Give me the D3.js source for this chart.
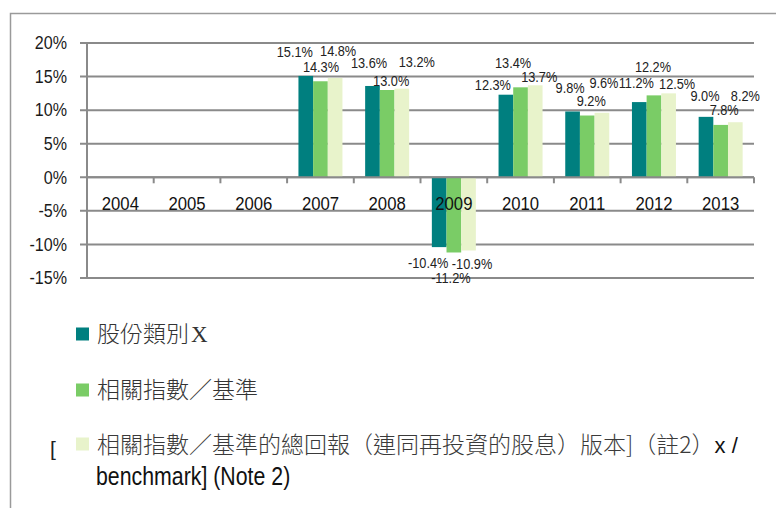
<!DOCTYPE html>
<html>
<head>
<meta charset="utf-8">
<script src="https://cdn.jsdelivr.net/npm/d3@7"></script>
<style>
  html, body { margin: 0; padding: 0; background: #fff; }
  svg { display: block; }
</style>
</head>
<body>
<div id="chart"></div>
<script>
// ---------- data ----------
const years = ["2004", "2005", "2006", "2007", "2008", "2009", "2010", "2011", "2012", "2013"];
const shareClassX = [null, null, null, 15.1, 13.6, -10.4, 12.3, 9.8, 11.2, 9.0];
const indexBenchmark = [null, null, null, 14.3, 13.0, -11.2, 13.4, 9.2, 12.2, 7.8];
const totalReturnVersion = [null, null, null, 14.8, 13.2, -10.9, 13.7, 9.6, 12.5, 8.2];
const yTicks = [-15, -10, -5, 0, 5, 10, 15, 20];
const legendRow1 = "股份類別";
const legendRow1Tail = "X";
const legendRow2 = "相關指數／基準";
const legendRow3a = "相關指數／基準的總回報（連同再投資的股息）版本]（註2）";
const legendRow3aTail = "x /";
const legendRow3b = "benchmark] (Note 2)";
const legendBracket = "[";

// ---------- layout / style ----------
const W = 776, H = 508;
const colors = ["#007f7f", "#7acc66", "#e8f3cb"];
const gridColor = "#8a8a8a";
const sans = "'Liberation Sans', Arial, sans-serif";
const cjk = "'Noto Sans CJK TC', 'Noto Sans CJK SC', sans-serif";
// label nudges (px) relative to bar end, per series, for years 2007..2013
const labelDx = [
  [-11, -3.5, -11, -13, -2.5, -3, -1],
  [0.5, 4, -3, -7.5, 4, -1, 3.5],
  [3, 15, 3.5, 4, 2, 8.5, 10]
];
const labelDy = [
  [-24.6, -22.7, 16, -10.4, -24, -19, -20.6],
  [-14, -9.7, 25, -25, -15, -29, -15.6],
  [-27.6, -26.4, 13, -9, -30.5, -10, -26]
];
const firstLabelledYear = 3;

const svg = d3.select("#chart").append("svg")
  .attr("width", W).attr("height", H);

// outer frame (left + top)
svg.append("path")
  .attr("d", `M10.5,${H} L10.5,13.5 L${W},13.5`)
  .attr("fill", "none").attr("stroke", "#9a9a9a").attr("stroke-width", 1.5);

const x = d3.scaleBand().domain(years).range([87, 754]).padding(0);
const y = d3.scaleLinear().domain([-15, 20]).range([278, 43]);
const groupW = 44;
const xs = d3.scaleBand().domain([0, 1, 2]).range([0, groupW]).padding(0);

// gridlines
svg.append("g").selectAll("line").data(yTicks).join("line")
  .attr("x1", 80).attr("x2", 754)
  .attr("y1", d => y(d)).attr("y2", d => y(d))
  .attr("stroke", gridColor).attr("stroke-width", 2);

// y tick labels
svg.append("g").selectAll("text").data(yTicks).join("text")
  .attr("transform", d => `translate(67,${y(d)}) scale(0.92,1)`)
  .attr("dy", "0.36em")
  .attr("text-anchor", "end")
  .attr("font-family", sans)
  .attr("font-size", 17.5).attr("fill", "#1a1a1a")
  .text(d => d + "%");

// bars
const series = [shareClassX, indexBenchmark, totalReturnVersion];
const barData = [];
series.forEach((arr, si) => {
  arr.forEach((v, yi) => {
    if (v !== null) barData.push({ si, yi, v });
  });
});
const bandCenter = yr => x(yr) + x.bandwidth() / 2;
svg.append("g").selectAll("rect").data(barData).join("rect")
  .attr("x", d => bandCenter(years[d.yi]) - groupW / 2 + xs(d.si))
  .attr("width", xs.bandwidth())
  .attr("y", d => Math.min(y(d.v), y(0)))
  .attr("height", d => Math.abs(y(d.v) - y(0)))
  .attr("fill", d => colors[d.si]);

// y axis line
svg.append("line")
  .attr("x1", 87).attr("x2", 87).attr("y1", y(20)).attr("y2", y(-15))
  .attr("stroke", gridColor).attr("stroke-width", 2);

// x axis line + ticks
svg.append("line")
  .attr("x1", 87).attr("x2", 754).attr("y1", y(0)).attr("y2", y(0))
  .attr("stroke", gridColor).attr("stroke-width", 2);
const tickXs = years.map(yr => x(yr)).concat([x(years[years.length - 1]) + x.bandwidth()]);
svg.append("g").selectAll("line").data(tickXs).join("line")
  .attr("x1", d => d).attr("x2", d => d)
  .attr("y1", y(0)).attr("y2", y(0) + 6)
  .attr("stroke", gridColor).attr("stroke-width", 2);

// year labels
svg.append("g").selectAll("text").data(years).join("text")
  .attr("transform", d => `translate(${bandCenter(d)},210) scale(0.88,1)`)
  .attr("text-anchor", "middle")
  .attr("font-family", sans)
  .attr("font-size", 19).attr("fill", "#111")
  .text(d => d);

// data labels
svg.append("g").selectAll("text").data(barData).join("text")
  .attr("transform", d => {
    const cx = bandCenter(years[d.yi]) - groupW / 2 + xs(d.si) + xs.bandwidth() / 2 + labelDx[d.si][d.yi - firstLabelledYear];
    const cy = y(d.v) + labelDy[d.si][d.yi - firstLabelledYear];
    return `translate(${cx},${cy}) scale(0.88,1)`;
  })
  .attr("dy", "0.36em")
  .attr("text-anchor", "middle")
  .attr("font-family", sans)
  .attr("font-size", 14.5).attr("fill", "#222")
  .text(d => d.v.toFixed(1) + "%");

// legend
const lg = svg.append("g");
const rows = [
  { cy: 334, color: colors[0] },
  { cy: 390, color: colors[1] },
  { cy: 444, color: colors[2] }
];
lg.selectAll("rect").data(rows).join("rect")
  .attr("x", 76).attr("y", d => d.cy - 6.5).attr("width", 13).attr("height", 13)
  .attr("fill", d => d.color);

const t1 = lg.append("text").attr("x", 97).attr("y", 334).attr("dy", "0.36em")
  .attr("font-family", cjk).attr("font-weight", 300).attr("font-size", 23).attr("fill", "#333");
t1.append("tspan").text(legendRow1);
t1.append("tspan").attr("font-family", "'Liberation Serif', serif").attr("dx", 2).text(legendRow1Tail);

lg.append("text").attr("x", 97).attr("y", 390).attr("dy", "0.36em")
  .attr("font-family", cjk).attr("font-weight", 300).attr("font-size", 23).attr("fill", "#333")
  .text(legendRow2);

const t3 = lg.append("text").attr("x", 97).attr("y", 445).attr("dy", "0.36em")
  .attr("font-family", cjk).attr("font-weight", 300).attr("font-size", 23).attr("fill", "#3a3a3a");
t3.append("tspan").text(legendRow3a);
t3.append("tspan").attr("font-family", sans).attr("font-size", 22).attr("fill", "#111").text(legendRow3aTail);

lg.append("text").attr("x", 50).attr("y", 448).attr("dy", "0.36em")
  .attr("font-family", sans)
  .attr("font-size", 21).attr("fill", "#222")
  .text(legendBracket);

lg.append("text")
  .attr("transform", "translate(96,476) scale(0.82,1)")
  .attr("dy", "0.36em")
  .attr("font-family", sans)
  .attr("font-size", 26).attr("fill", "#111")
  .text(legendRow3b);
</script>
</body>
</html>
